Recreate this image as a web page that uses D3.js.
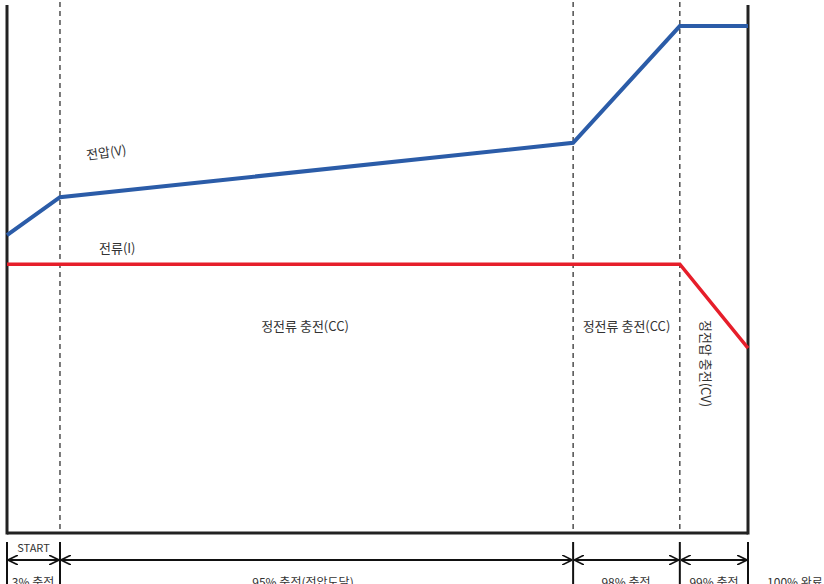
<!DOCTYPE html>
<html>
<head>
<meta charset="utf-8">
<script src="https://cdn.jsdelivr.net/npm/d3@7"></script>
<style>
body{margin:0;background:#fff;}
svg text{font-family:"Noto Sans CJK KR","Noto Sans",sans-serif;fill:#333;}
</style>
</head>
<body>
<svg id="chart" width="824" height="584"></svg>
<script>
// elapsed time (% of full charge time) at each stage boundary
var stage_x=[0,7.15,76.4,90.8,100];
var stage_names=["3% 충전","95% 충전(전압도달)","98% 충전","99% 충전"];
var end_name="100% 완료";

// voltage and current levels (relative, 0-100)
var volt_x=[0,7.15,76.4,90.8,100];
var volt_y=[56.4,63.6,73.9,96.0,96.0];
var curr_x=[0,90.8,100];
var curr_y=[50.9,50.9,35.0];

var svg=d3.select("#chart");
var x=d3.scaleLinear().domain([0,100]).range([7,748]);
var y=d3.scaleLinear().domain([0,100]).range([533,5]);

// dashed stage dividers
svg.selectAll(".divider")
    .data(stage_x.slice(1,4))
    .enter().append("line")
    .attr("x1",function(d){return x(d)}).attr("x2",function(d){return x(d)})
    .attr("y1",2).attr("y2",y(0))
    .attr("stroke","#333").attr("stroke-width",1.3)
    .attr("stroke-dasharray","5,4");

// frame: left, right, bottom
svg.append("line").attr("x1",x(0)).attr("x2",x(0)).attr("y1",5).attr("y2",y(0)+1.5)
    .attr("stroke","#222").attr("stroke-width",3);
svg.append("line").attr("x1",x(100)).attr("x2",x(100)).attr("y1",5).attr("y2",y(0)+1.5)
    .attr("stroke","#222").attr("stroke-width",3);
svg.append("line").attr("x1",x(0)).attr("x2",x(100)).attr("y1",y(0)).attr("y2",y(0))
    .attr("stroke","#222").attr("stroke-width",3);

var line=d3.line().x(function(d){return x(d[0])}).y(function(d){return y(d[1])});

svg.append("path")
    .datum(volt_x.map(function(v,i){return [v,volt_y[i]]}))
    .attr("d",line).attr("fill","none")
    .attr("stroke","#2b5ca8").attr("stroke-width",4);

svg.append("path")
    .datum(curr_x.map(function(v,i){return [v,curr_y[i]]}))
    .attr("d",line).attr("fill","none")
    .attr("stroke","#e61e2a").attr("stroke-width",3.5);

// labels
svg.append("text").attr("transform","translate(87,160) rotate(-8)")
    .attr("font-size",13).text("전압(V)");
svg.append("text").attr("x",99).attr("y",253)
    .attr("font-size",13).text("전류(I)");
svg.append("text").attr("x",305).attr("y",331)
    .attr("text-anchor","middle").attr("font-size",13).text("정전류 충전(CC)");
svg.append("text").attr("x",(x(stage_x[2])+x(stage_x[3]))/2).attr("y",331)
    .attr("text-anchor","middle").attr("font-size",13).text("정전류 충전(CC)");
svg.append("text").attr("transform","translate(701,320) rotate(90)")
    .attr("font-size",13).text("정전압 충전(CV)");

// bottom timeline
var arrow_y=560;
svg.append("defs").append("marker")
    .attr("id","chev").attr("viewBox","0 0 10 10")
    .attr("refX",10).attr("refY",5)
    .attr("markerWidth",10).attr("markerHeight",10)
    .attr("markerUnits","userSpaceOnUse")
    .attr("orient","auto-start-reverse")
    .append("path").attr("d","M0,0 L10,5 L0,10")
    .attr("fill","none").attr("stroke","#111").attr("stroke-width",1.6);

svg.selectAll(".tick-v")
    .data(stage_x)
    .enter().append("line")
    .attr("x1",function(d){return x(d)}).attr("x2",function(d){return x(d)})
    .attr("y1",542).attr("y2",590)
    .attr("stroke","#111").attr("stroke-width",2);

svg.selectAll(".span")
    .data(stage_x.slice(0,4))
    .enter().append("line")
    .attr("x1",function(d){return x(d)+1})
    .attr("x2",function(d,i){return x(stage_x[i+1])-1})
    .attr("y1",arrow_y).attr("y2",arrow_y)
    .attr("stroke","#111").attr("stroke-width",2)
    .attr("marker-start","url(#chev)").attr("marker-end","url(#chev)");

svg.append("text").attr("x",(x(stage_x[0])+x(stage_x[1]))/2).attr("y",552)
    .attr("text-anchor","middle").attr("font-size",11).text("START");

var name_x=[33,303,626,714];
svg.selectAll(".stage-name")
    .data(stage_names)
    .enter().append("text")
    .attr("x",function(d,i){return name_x[i]})
    .attr("y",587)
    .attr("text-anchor","middle").attr("font-size",12)
    .text(function(d){return d});
svg.append("text").attr("x",795).attr("y",587)
    .attr("text-anchor","middle").attr("font-size",12).text(end_name);
</script>
</body>
</html>
